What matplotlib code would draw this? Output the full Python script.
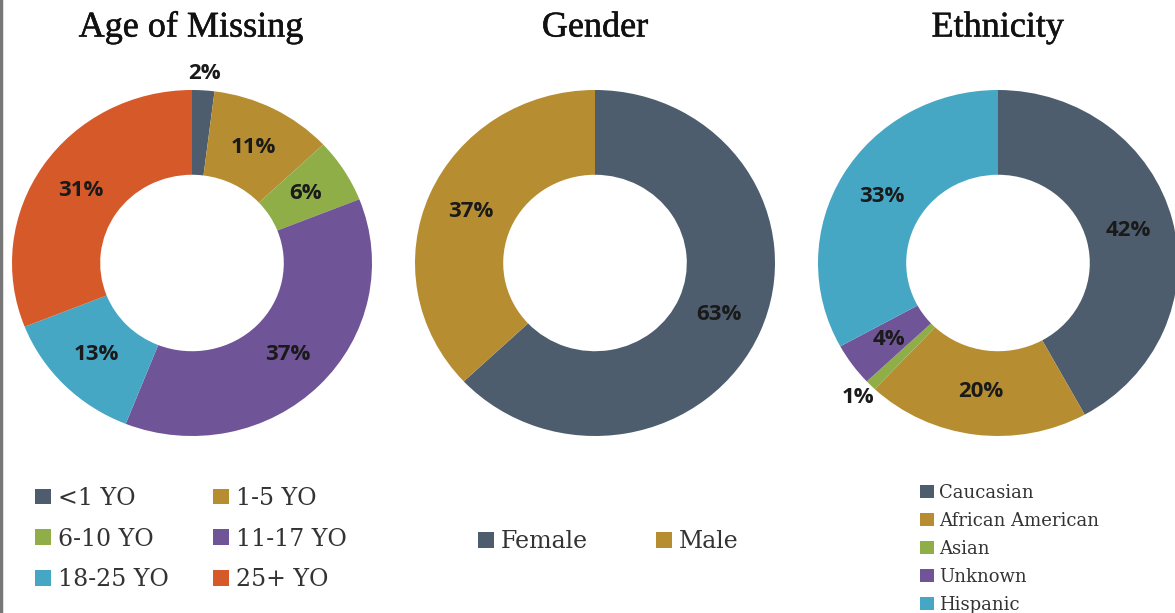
import numpy as np
import matplotlib
matplotlib.use('Agg')
import matplotlib.pyplot as plt
import matplotlib.patheffects as pe
from matplotlib.patches import Patch
from matplotlib.lines import Line2D

# data
age_labels = ['<1 YO', '1-5 YO', '6-10 YO', '11-17 YO', '18-25 YO', '25+ YO']
age_values = [2, 11, 6, 37, 13, 31]
age_colors = ['#4d5d6e', '#b68d30', '#8fae48', '#6f5597', '#45a7c4', '#d6592a']

gender_labels = ['Female', 'Male']
gender_values = [63, 37]
gender_colors = ['#4d5d6e', '#b68d30']

eth_labels = ['Caucasian', 'African American', 'Asian', 'Unknown', 'Hispanic']
eth_values = [42, 20, 1, 4, 33]
eth_colors = ['#4d5d6e', '#b68d30', '#8fae48', '#6f5597', '#45a7c4']

titles = ['Age of Missing', 'Gender', 'Ethnicity']

W, H = 1175, 613
fig = plt.figure(figsize=(W / 100, H / 100), dpi=100)
fig.patch.set_facecolor('white')

# left edge border line in the screenshot
fig.add_artist(Line2D([0.001, 0.001], [0, 1], color='#777777', lw=2.5,
                      transform=fig.transFigure))

label_font = dict(family='Open Sans', fontsize=16, fontweight='bold', color='#1a1a1a')


def donut(cx, values, colors, outside=None):
    outside = outside or {}
    rx, ry = 180, 173
    ax = fig.add_axes([(cx - rx) / W, (H - 263 - ry) / H, 2 * rx / W, 2 * ry / H])
    wedges, _ = ax.pie(values, colors=colors, startangle=90, counterclock=False,
                       radius=1.0, wedgeprops=dict(width=0.49, linewidth=0))
    ax.set_aspect('auto')
    ax.set_xlim(-1, 1)
    ax.set_ylim(-1, 1)
    ax.axis('off')
    for i, (w, v) in enumerate(zip(wedges, values)):
        ang = np.deg2rad((w.theta1 + w.theta2) / 2)
        d = outside.get(i, 0.75)
        ax.text(d * np.cos(ang), d * np.sin(ang), f'{v}%', ha='center',
                va='center', clip_on=False, **label_font)
    return ax


donut(192, age_values, age_colors, outside={0: 1.1})
donut(595, gender_values, gender_colors)
donut(998, eth_values, eth_colors, outside={2: 1.1})

title_x = [191, 595, 998]
for t, x in zip(titles, title_x):
    fig.text(x / W, 1 - 28 / H, t, ha='center', va='center',
             family='Liberation Serif', fontsize=26, color='#111111',
             path_effects=[pe.withStroke(linewidth=0.4, foreground='#111111')])

leg_font = dict(family='DejaVu Serif', size=17)

age_handles = [Patch(facecolor=c, edgecolor='none') for c in age_colors]
# reorder so the two-column legend fills row by row
order = [0, 2, 4, 1, 3, 5]
fig.legend([age_handles[i] for i in order], [age_labels[i] for i in order],
           ncol=2, loc='center left', bbox_to_anchor=(14 / W, 1 - 539 / H),
           frameon=False, prop=leg_font, handlelength=0.65, handleheight=0.65,
           handletextpad=0.3, columnspacing=1.9, labelspacing=0.75,
           labelcolor='#333333')

fig.legend([Patch(facecolor=c, edgecolor='none') for c in gender_colors], gender_labels,
           ncol=2, loc='center left', bbox_to_anchor=(457 / W, 1 - 542 / H),
           frameon=False, prop=leg_font, handlelength=0.65, handleheight=0.65,
           handletextpad=0.3, columnspacing=2.9, labelcolor='#333333')

fig.legend([Patch(facecolor=c, edgecolor='none') for c in eth_colors], eth_labels,
           loc='center left', bbox_to_anchor=(904 / W, 1 - 549 / H),
           frameon=False, prop=dict(family='DejaVu Serif', size=13),
           handlelength=0.75, handleheight=0.75, handletextpad=0.3,
           labelspacing=0.55, labelcolor='#333333')

fig.savefig('out.png', dpi=100, facecolor='white')
